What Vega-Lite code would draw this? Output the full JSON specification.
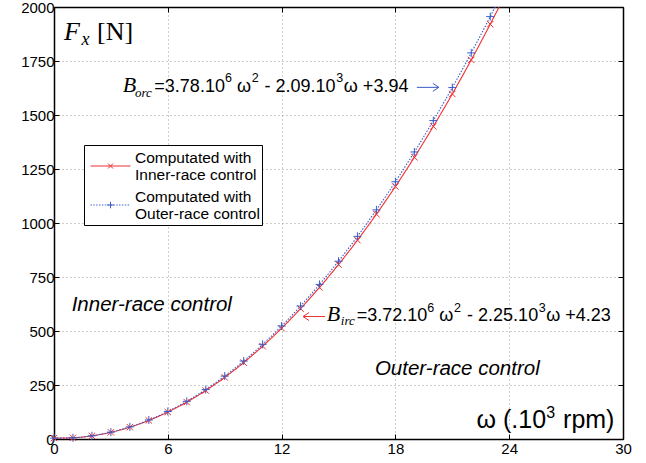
{
  "$schema": "https://vega.github.io/schema/vega-lite/v6.json",
  "width": 569,
  "height": 432,
  "autosize": {"type": "none"},
  "padding": {"left": 54, "top": 7, "right": 23, "bottom": 24},
  "background": "white",
  "config": {"view": {"stroke": "black", "strokeWidth": 1}, "font": "Liberation Sans"},
  "datasets": {
    "curves": [
      {"s": "Inner", "w": 0, "F": 4.2}, {"s": "Inner", "w": 1, "F": 5.7}, {"s": "Inner", "w": 2, "F": 14.6},
      {"s": "Inner", "w": 3, "F": 31.0}, {"s": "Inner", "w": 4, "F": 54.8}, {"s": "Inner", "w": 5, "F": 86.0},
      {"s": "Inner", "w": 6, "F": 124.7}, {"s": "Inner", "w": 7, "F": 170.8}, {"s": "Inner", "w": 8, "F": 224.3},
      {"s": "Inner", "w": 9, "F": 285.3}, {"s": "Inner", "w": 10, "F": 353.7}, {"s": "Inner", "w": 11, "F": 429.6},
      {"s": "Inner", "w": 12, "F": 512.9}, {"s": "Inner", "w": 13, "F": 603.7}, {"s": "Inner", "w": 14, "F": 701.9},
      {"s": "Inner", "w": 15, "F": 807.5}, {"s": "Inner", "w": 16, "F": 920.6}, {"s": "Inner", "w": 17, "F": 1041.1},
      {"s": "Inner", "w": 18, "F": 1169.0}, {"s": "Inner", "w": 19, "F": 1304.4}, {"s": "Inner", "w": 20, "F": 1447.2},
      {"s": "Inner", "w": 21, "F": 1597.5}, {"s": "Inner", "w": 22, "F": 1755.2}, {"s": "Inner", "w": 23, "F": 1920.4},
      {"s": "Inner", "w": 24, "F": 2093.0},
      {"s": "Outer", "w": 0, "F": 3.9}, {"s": "Outer", "w": 1, "F": 5.6}, {"s": "Outer", "w": 2, "F": 14.9},
      {"s": "Outer", "w": 3, "F": 31.7}, {"s": "Outer", "w": 4, "F": 56.1}, {"s": "Outer", "w": 5, "F": 88.0},
      {"s": "Outer", "w": 6, "F": 127.5}, {"s": "Outer", "w": 7, "F": 174.5}, {"s": "Outer", "w": 8, "F": 229.1},
      {"s": "Outer", "w": 9, "F": 291.3}, {"s": "Outer", "w": 10, "F": 361.0}, {"s": "Outer", "w": 11, "F": 438.3},
      {"s": "Outer", "w": 12, "F": 523.2}, {"s": "Outer", "w": 13, "F": 615.6}, {"s": "Outer", "w": 14, "F": 715.6},
      {"s": "Outer", "w": 15, "F": 823.1}, {"s": "Outer", "w": 16, "F": 938.2}, {"s": "Outer", "w": 17, "F": 1060.8},
      {"s": "Outer", "w": 18, "F": 1191.0}, {"s": "Outer", "w": 19, "F": 1328.8}, {"s": "Outer", "w": 20, "F": 1474.1},
      {"s": "Outer", "w": 21, "F": 1627.0}, {"s": "Outer", "w": 22, "F": 1787.5}, {"s": "Outer", "w": 23, "F": 1955.5},
      {"s": "Outer", "w": 24, "F": 2131.0}
    ],
    "arrows": [
      {"s": "Outer", "tail": 19.13, "head": 20.29, "y": 1628},
      {"s": "Inner", "tail": 14.29, "head": 13.13, "y": 567}
    ]
  },
  "layer": [
    {
      "data": {"name": "curves"},
      "mark": {"type": "line", "clip": true, "interpolate": "monotone", "strokeWidth": 1.1},
      "encoding": {
        "x": {"field": "w", "type": "quantitative", "scale": {"domain": [0, 30], "nice": false, "zero": false},
          "axis": {"orient": "bottom", "title": null, "values": [0, 6, 12, 18, 24, 30], "format": "d", "grid": true, "gridColor": "#9a9a9a", "gridDash": [1, 3], "gridWidth": 1,
            "tickSize": -5, "tickColor": "black", "domainColor": "black", "domainWidth": 1.5, "labelPadding": 7, "labelFlush": false,
            "labelFontSize": 15, "labelColor": "black", "labelFont": "Liberation Sans"}},
        "y": {"field": "F", "type": "quantitative", "scale": {"domain": [0, 2000], "nice": false},
          "axis": {"orient": "left", "title": null, "values": [0, 250, 500, 750, 1000, 1250, 1500, 1750, 2000], "format": "d", "grid": true, "gridColor": "#9a9a9a", "gridDash": [1, 3], "gridWidth": 1,
            "tickSize": -5, "tickColor": "black", "domainColor": "black", "domainWidth": 1.5, "labelPadding": 5,
            "labelFontSize": 15, "labelColor": "black", "labelFont": "Liberation Sans"}},
        "color": {"field": "s", "type": "nominal", "scale": {"domain": ["Inner", "Outer"], "range": ["#f03030", "#3a5cc8"]}, "legend": null},
        "strokeDash": {"field": "s", "type": "nominal", "scale": {"domain": ["Inner", "Outer"], "range": [[1, 0], [1.5, 1.5]]}, "legend": null}
      }
    },
    {
      "data": {"name": "curves"},
      "transform": [{"filter": "datum.w <= 23"}],
      "mark": {"type": "point", "filled": false, "strokeWidth": 1, "size": 64, "opacity": 1},
      "encoding": {
        "x": {"field": "w", "type": "quantitative",
          "axis": {"orient": "top", "title": null, "values": [0, 6, 12, 18, 24, 30], "grid": false, "labels": false,
            "tickSize": -5, "tickColor": "black", "domainColor": "black", "domainWidth": 1.5}},
        "y": {"field": "F", "type": "quantitative",
          "axis": {"orient": "right", "title": null, "values": [0, 250, 500, 750, 1000, 1250, 1500, 1750, 2000], "grid": false, "labels": false,
            "tickSize": -5, "tickColor": "black", "domainColor": "black", "domainWidth": 1.5}},
        "color": {"field": "s", "type": "nominal", "scale": {"domain": ["Inner", "Outer"], "range": ["#f03030", "#3a5cc8"]}, "legend": null},
        "shape": {"field": "s", "type": "nominal", "scale": {"domain": ["Inner", "Outer"], "range": ["M-0.8,-0.8L0.8,0.8M-0.8,0.8L0.8,-0.8", "M-1,0H1M0,-1V1"]}, "legend": null}
      }
    },
    {
      "data": {"name": "curves"},
      "transform": [{"filter": "datum.w == 24"}],
      "mark": {"type": "point", "filled": false, "clip": true, "strokeWidth": 1, "opacity": 1},
      "encoding": {
        "x": {"field": "w", "type": "quantitative", "axis": null},
        "y": {"field": "F", "type": "quantitative", "axis": null},
        "color": {"field": "s", "type": "nominal", "scale": {"domain": ["Inner", "Outer"], "range": ["#f03030", "#3a5cc8"]},
          "legend": {"orient": "none", "legendX": 30, "legendY": 138, "title": null, "strokeColor": "black", "fillColor": "white", "padding": 2,
            "symbolOffset": 14, "symbolSize": 400, "symbolStrokeWidth": 1, "labelFontSize": 15.5, "labelFont": "Liberation Sans", "labelColor": "black",
            "labelOffset": 14, "rowPadding": 2, "labelLimit": 300,
            "labelExpr": "datum.label == 'Inner' ? ['Computated with', 'Inner-race control'] : ['Computated with', 'Outer-race control']"}},
        "shape": {"field": "s", "type": "nominal",
          "scale": {"domain": ["Inner", "Outer"], "range": [
            "M-2,0.85H2M-0.25,0.6L0.25,1.1M-0.25,1.1L0.25,0.6",
            "M-2,0.85H-1.86M-1.714,0.85H-1.574M-1.428,0.85H-1.288M-1.142,0.85H-1.002M-0.856,0.85H-0.716M-0.57,0.85H-0.43M-0.284,0.85H-0.144M0.002,0.85H0.142M0.288,0.85H0.428M0.574,0.85H0.714M0.86,0.85H1M1.146,0.85H1.286M1.432,0.85H1.572M1.718,0.85H1.858M-0.33,0.85H0.33M0,0.52V1.18"]},
          "legend": {"orient": "none", "legendX": 30, "legendY": 138, "title": null, "strokeColor": "black", "fillColor": "white", "padding": 2,
            "symbolOffset": 14, "symbolSize": 400, "symbolStrokeWidth": 1, "labelFontSize": 15.5, "labelFont": "Liberation Sans", "labelColor": "black",
            "labelOffset": 14, "rowPadding": 2, "labelLimit": 300,
            "labelExpr": "datum.label == 'Inner' ? ['Computated with', 'Inner-race control'] : ['Computated with', 'Outer-race control']"}}
      }
    },
    {
      "data": {"name": "arrows"},
      "mark": {"type": "rule", "strokeWidth": 1},
      "encoding": {
        "x": {"field": "tail", "type": "quantitative", "axis": null},
        "x2": {"field": "head"},
        "y": {"field": "y", "type": "quantitative", "axis": null},
        "color": {"field": "s", "type": "nominal", "scale": {"domain": ["Inner", "Outer"], "range": ["#f03030", "#3a5cc8"]}, "legend": null}
      }
    },
    {
      "data": {"name": "arrows"},
      "mark": {"type": "point", "filled": false, "strokeWidth": 1, "size": 100, "opacity": 1},
      "encoding": {
        "x": {"field": "head", "type": "quantitative", "axis": null},
        "y": {"field": "y", "type": "quantitative", "axis": null},
        "color": {"field": "s", "type": "nominal", "scale": {"domain": ["Inner", "Outer"], "range": ["#f03030", "#3a5cc8"]}, "legend": null},
        "shape": {"field": "s", "type": "nominal", "scale": {"domain": ["Inner", "Outer"], "range": ["M1.2,-0.8L0,0L1.2,0.8", "M-1.2,-0.8L0,0L-1.2,0.8"]}, "legend": null}
      }
    },
    {
      "data": {"values": [{"x": 0.53, "y": 1848, "t": "F"}]},
      "mark": {"type": "text", "align": "left", "baseline": "alphabetic", "font": "Liberation Serif", "fontStyle": "italic", "fontSize": 26, "color": "black"},
      "encoding": {"x": {"field": "x", "type": "quantitative", "axis": null}, "y": {"field": "y", "type": "quantitative", "axis": null}, "text": {"field": "t"}}
    },
    {
      "data": {"values": [{"x": 1.45, "y": 1826, "t": "x"}]},
      "mark": {"type": "text", "align": "left", "baseline": "alphabetic", "font": "Liberation Serif", "fontStyle": "italic", "fontSize": 18, "color": "black"},
      "encoding": {"x": {"field": "x", "type": "quantitative", "axis": null}, "y": {"field": "y", "type": "quantitative", "axis": null}, "text": {"field": "t"}}
    },
    {
      "data": {"values": [{"x": 2.27, "y": 1848, "t": "[N]"}]},
      "mark": {"type": "text", "align": "left", "baseline": "alphabetic", "font": "Liberation Serif", "fontSize": 26, "color": "black"},
      "encoding": {"x": {"field": "x", "type": "quantitative", "axis": null}, "y": {"field": "y", "type": "quantitative", "axis": null}, "text": {"field": "t"}}
    },
    {
      "data": {"values": [{"x": 3.62, "y": 1606, "t": "B"}, {"x": 14.38, "y": 544, "t": "B"}]},
      "mark": {"type": "text", "align": "left", "baseline": "alphabetic", "font": "Liberation Serif", "fontStyle": "italic", "fontSize": 22, "color": "black"},
      "encoding": {"x": {"field": "x", "type": "quantitative", "axis": null}, "y": {"field": "y", "type": "quantitative", "axis": null}, "text": {"field": "t"}}
    },
    {
      "data": {"values": [{"x": 4.27, "y": 1585, "t": "orc"}, {"x": 15.12, "y": 526, "t": "irc"}]},
      "mark": {"type": "text", "align": "left", "baseline": "alphabetic", "font": "Liberation Serif", "fontStyle": "italic", "fontSize": 13, "color": "black"},
      "encoding": {"x": {"field": "x", "type": "quantitative", "axis": null}, "y": {"field": "y", "type": "quantitative", "axis": null}, "text": {"field": "t"}}
    },
    {
      "data": {"values": [
        {"x": 5.29, "y": 1606, "t": "=3.78.10"},
        {"x": 9.65, "y": 1606, "t": "ω"},
        {"x": 11.1, "y": 1606, "t": "- 2.09.10"},
        {"x": 15.28, "y": 1606, "t": "ω +3.94"},
        {"x": 15.96, "y": 544, "t": "=3.72.10"},
        {"x": 20.31, "y": 544, "t": "ω"},
        {"x": 21.78, "y": 544, "t": "- 2.25.10"},
        {"x": 25.95, "y": 544, "t": "ω +4.23"}
      ]},
      "mark": {"type": "text", "align": "left", "baseline": "alphabetic", "font": "Liberation Sans", "fontSize": 18, "color": "black"},
      "encoding": {"x": {"field": "x", "type": "quantitative", "axis": null}, "y": {"field": "y", "type": "quantitative", "axis": null}, "text": {"field": "t"}}
    },
    {
      "data": {"values": [
        {"x": 9.01, "y": 1652, "t": "6"},
        {"x": 10.42, "y": 1652, "t": "2"},
        {"x": 14.88, "y": 1652, "t": "3"},
        {"x": 19.68, "y": 590, "t": "6"},
        {"x": 21.09, "y": 590, "t": "2"},
        {"x": 25.56, "y": 590, "t": "3"}
      ]},
      "mark": {"type": "text", "align": "left", "baseline": "alphabetic", "font": "Liberation Sans", "fontSize": 12.5, "color": "black"},
      "encoding": {"x": {"field": "x", "type": "quantitative", "axis": null}, "y": {"field": "y", "type": "quantitative", "axis": null}, "text": {"field": "t"}}
    },
    {
      "data": {"values": [{"x": 0.93, "y": 594, "t": "Inner-race control"}, {"x": 16.92, "y": 298, "t": "Outer-race control"}]},
      "mark": {"type": "text", "align": "left", "baseline": "alphabetic", "font": "Liberation Sans", "fontStyle": "italic", "fontSize": 20.5, "color": "black"},
      "encoding": {"x": {"field": "x", "type": "quantitative", "axis": null}, "y": {"field": "y", "type": "quantitative", "axis": null}, "text": {"field": "t"}}
    },
    {
      "data": {"values": [{"x": 22.28, "y": 52, "t": "ω (.10"}, {"x": 26.84, "y": 52, "t": "rpm)"}]},
      "mark": {"type": "text", "align": "left", "baseline": "alphabetic", "font": "Liberation Sans", "fontSize": 25, "color": "black"},
      "encoding": {"x": {"field": "x", "type": "quantitative", "axis": null}, "y": {"field": "y", "type": "quantitative", "axis": null}, "text": {"field": "t"}}
    },
    {
      "data": {"values": [{"x": 25.95, "y": 97, "t": "3"}]},
      "mark": {"type": "text", "align": "left", "baseline": "alphabetic", "font": "Liberation Sans", "fontSize": 16, "color": "black"},
      "encoding": {"x": {"field": "x", "type": "quantitative", "axis": null}, "y": {"field": "y", "type": "quantitative", "axis": null}, "text": {"field": "t"}}
    }
  ],
  "resolve": {
    "scale": {"color": "independent", "shape": "independent", "strokeDash": "independent"},
    "axis": {"x": "independent", "y": "independent"}
  }
}
